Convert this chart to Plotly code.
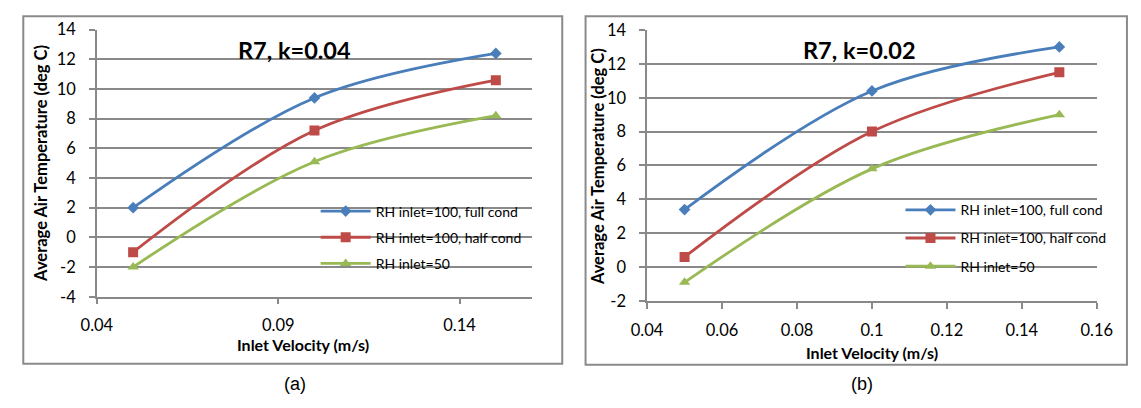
import plotly.graph_objects as go

# ---- data ----
x_vals = [0.05, 0.10, 0.15]
series_names = ["RH inlet=100, full cond", "RH inlet=100, half cond", "RH inlet=50"]
a_full = [2.0, 9.4, 12.4]
a_half = [-1.0, 7.2, 10.6]
a_rh50 = [-2.0, 5.1, 8.2]
b_full = [3.4, 10.4, 13.0]
b_half = [0.6, 8.0, 11.5]
b_rh50 = [-0.9, 5.8, 9.0]
a_yticks = [-4, -2, 0, 2, 4, 6, 8, 10, 12, 14]
b_yticks = [-2, 0, 2, 4, 6, 8, 10, 12, 14]
a_xticks = [0.04, 0.09, 0.14]
b_xticks = [0.04, 0.06, 0.08, 0.1, 0.12, 0.14, 0.16]
titles = ["R7, k=0.04", "R7, k=0.02"]
panel_labels = ["(a)", "(b)"]
x_title = "Inlet Velocity (m/s)"
y_title = "Average Air Temperature (deg C)"

colors = ["#4A7EBB", "#BE4B48", "#98B954"]
symbols = ["diamond", "square", "triangle-up"]
msizes = [9, 10, 10]

W, H = 1141, 408
def fx(p):
    return p / W
def fy(p):
    return 1 - p / H

FONT = "Lato"
GRID = "#898989"

fig = go.Figure()

panels = [
    dict(ys=[a_full, a_half, a_rh50], xa="x", ya="y", leg="legend"),
    dict(ys=[b_full, b_half, b_rh50], xa="x2", ya="y2", leg="legend2"),
]
for pi, p in enumerate(panels):
    for si, ys in enumerate(p["ys"]):
        fig.add_trace(go.Scatter(
            x=x_vals, y=ys, name=series_names[si],
            mode="lines+markers",
            line=dict(color=colors[si], width=2.8, shape="spline", smoothing=1.0),
            marker=dict(symbol=symbols[si], size=msizes[si], color=colors[si]),
            xaxis=p["xa"], yaxis=p["ya"], legend=p["leg"],
            legendgroup=f"g{pi}{si}",
        ))

axis_common = dict(
    showline=True, linecolor=GRID, linewidth=1.5,
    ticks="outside", tickcolor=GRID, ticklen=6, tickwidth=1.5,
    tickfont=dict(family=FONT, size=16.5, color="#000000"),
    zeroline=False,
)

def labels(vals):
    return [("%g" % v) for v in vals]

fig.update_layout(
    width=W, height=H,
    margin=dict(l=0, r=0, t=0, b=0),
    paper_bgcolor="white", plot_bgcolor="white",
    showlegend=True,
    xaxis=dict(domain=[fx(83.2), fx(531)], range=[0.04, 0.16],
               tickvals=a_xticks, ticktext=labels(a_xticks),
               anchor="y", showgrid=False, ticklabelstandoff=7, **axis_common),
    yaxis=dict(domain=[fy(301.5), fy(20.7)], range=[-4, 14],
               tickvals=a_yticks, ticktext=labels(a_yticks),
               anchor="x", showgrid=True, gridcolor=GRID, gridwidth=1.5,
               ticklabelstandoff=10, **axis_common),
    xaxis2=dict(domain=[fx(649.3), fx(1112)], range=[0.04, 0.16],
                tickvals=b_xticks, ticktext=labels(b_xticks),
                anchor="y2", showgrid=False, ticklabelstandoff=7, **axis_common),
    yaxis2=dict(domain=[fy(306), fy(21)], range=[-2, 14],
                tickvals=b_yticks, ticktext=labels(b_yticks),
                anchor="x2", showgrid=True, gridcolor=GRID, gridwidth=1.5,
                ticklabelstandoff=10, **axis_common),
    legend=dict(x=fx(308.3), y=fy(195), xanchor="left", yanchor="top",
                bgcolor="rgba(0,0,0,0)", borderwidth=0,
                font=dict(family=FONT, size=14, color="#000000"),
                tracegroupgap=5, itemwidth=50),
    legend2=dict(x=fx(910), y=fy(193.7), xanchor="left", yanchor="top",
                 bgcolor="rgba(0,0,0,0)", borderwidth=0,
                 font=dict(family=FONT, size=14, color="#000000"),
                 tracegroupgap=7, itemwidth=50),
)

# boxes around each chart
fig.add_shape(type="rect", xref="paper", yref="paper",
              x0=fx(7.5), x1=fx(562), y0=fy(372), y1=fy(6.5),
              line=dict(color="#8A8A8A", width=2), fillcolor="rgba(0,0,0,0)", layer="below")
fig.add_shape(type="rect", xref="paper", yref="paper",
              x0=fx(586), x1=fx(1143), y0=fy(373), y1=fy(6.5),
              line=dict(color="#8A8A8A", width=2), fillcolor="rgba(0,0,0,0)", layer="below")

ann = []
# chart titles
ann.append(dict(text="<b>" + titles[0] + "</b>", x=fx(286.5), y=fy(42), xref="paper", yref="paper",
                showarrow=False, xanchor="center", yanchor="middle",
                font=dict(family=FONT, size=23.5, color="#000000")))
ann.append(dict(text="<b>" + titles[1] + "</b>", x=fx(867.5), y=fy(42), xref="paper", yref="paper",
                showarrow=False, xanchor="center", yanchor="middle",
                font=dict(family=FONT, size=23.5, color="#000000")))
# axis titles
for cx, cy in [(295, 352), (881, 360.5)]:
    ann.append(dict(text="<b>" + x_title + "</b>", x=fx(cx), y=fy(cy), xref="paper", yref="paper",
                    showarrow=False, xanchor="center", yanchor="middle",
                    font=dict(family=FONT, size=16, color="#000000")))
for cx, cy in [(25, 161.5), (599, 165)]:
    ann.append(dict(text="<b>" + y_title + "</b>", x=fx(cx), y=fy(cy), xref="paper", yref="paper",
                    showarrow=False, xanchor="center", yanchor="middle", textangle=-90,
                    font=dict(family=FONT, size=16.5, color="#000000")))
# panel labels
for lab, cx in zip(panel_labels, [286.7, 870]):
    ann.append(dict(text=lab, x=fx(cx), y=fy(393), xref="paper", yref="paper",
                    showarrow=False, xanchor="center", yanchor="middle",
                    font=dict(family="Liberation Sans", size=18, color="#000000")))
fig.update_layout(annotations=ann)

fig.write_html("out.html")
